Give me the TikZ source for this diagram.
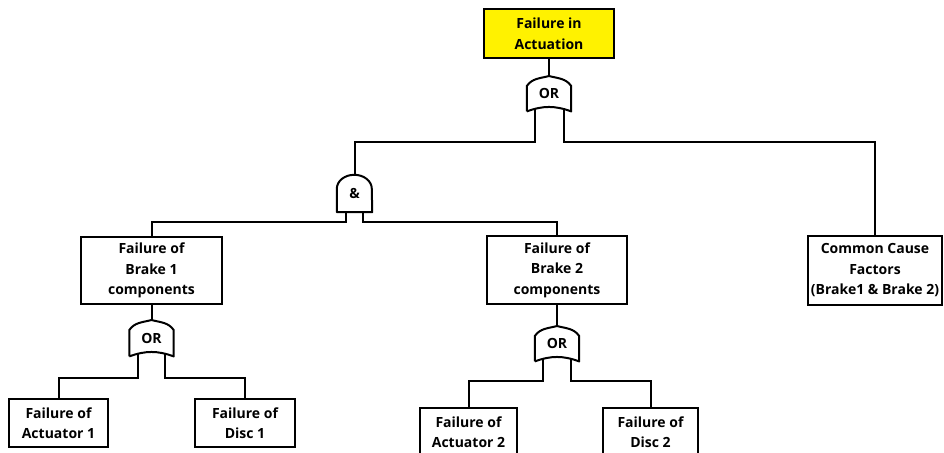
\documentclass[tikz,border=0pt]{standalone}
\usepackage{fontspec}
\setmainfont{Open Sans}
\usepackage{tikz}
\usetikzlibrary{positioning, calc}

% gate outlines, drawn round a gate node
\newcommand{\orshape}[1]{%
  \draw [gate] (#1.south west) -- ([yshift=-10pt]#1.north west)
    to [out=55, in=195] (#1.north)
    to [out=-15, in=125] ([yshift=-10pt]#1.north east)
    -- (#1.south east)
    to [out=160, in=20] (#1.south west);}
\newcommand{\andshape}[1]{%
  \draw [gate] (#1.south west) -- ([yshift=-14pt]#1.north west)
    arc [start angle=180, end angle=0, x radius=17.5pt, y radius=14pt]
    -- (#1.south east) -- cycle;}

\begin{document}
\begin{tikzpicture}[
    x = 1pt, y = 1pt, align = center,
    font = \bfseries\fontsize{14}{20.5}\selectfont,
    event/.style = {rectangle, draw, line width = 2pt, inner sep = 0pt},
    topevent/.style = {event, fill = yellow},
    orgate/.style = {inner sep = 0pt, minimum width = 44pt, minimum height = 35pt},
    andgate/.style = {inner sep = 0pt, minimum width = 35pt, minimum height = 37pt},
    gate/.style = {line width = 2pt, line join = round},
    link/.style = {line width = 2pt},
    ]

    \useasboundingbox (0,0) rectangle (944,-452);

    \node [topevent, minimum width = 130pt, minimum height = 49pt] (fail_act) at (549,-33.5) {Failure in\\Actuation};
    \node [orgate]  (or_top)  [below = 17pt of fail_act] {\raisebox{-3pt}{OR}};
    \node [andgate] (and_brk) at (354.5,-193.5) {\raisebox{-5pt}{\&}};

    \node [event, minimum width = 141pt, minimum height = 67pt] (brk1) at (151.5,-270.5) {Failure of\\Brake 1\\components};
    \node [event, minimum width = 140pt, minimum height = 68pt] (brk2) at (557,-270) {Failure of\\Brake 2\\components};
    \node [event, minimum width = 134pt, minimum height = 69pt] (ccf)  at (875,-270.5) {Common Cause\\Factors\\(Brake1 \& Brake 2)};

    \node [orgate, minimum height = 36pt] (or_brk1) [below = 15pt of brk1] {\raisebox{-3pt}{OR}};
    \node [orgate] (or_brk2) [below = 21pt of brk2] {\raisebox{-3pt}{OR}};

    \node [event, minimum width = 99pt,  minimum height = 48pt] (act1)  at (58.5,-423)  {Failure of\\Actuator 1};
    \node [event, minimum width = 100pt, minimum height = 48pt] (disc1) at (245,-423)   {Failure of\\Disc 1};
    \node [event, minimum width = 97pt,  minimum height = 48pt] (act2)  at (468.5,-432) {Failure of\\Actuator 2};
    \node [event, minimum width = 95pt,  minimum height = 48pt] (disc2) at (650.5,-432) {Failure of\\Disc 2};

    % gates
    \orshape{or_top}
    \andshape{and_brk}
    \orshape{or_brk1}
    \orshape{or_brk2}

    % draw paths
    \draw [link] (fail_act.south) -- (or_top.north);
    \draw [link] ([shift={(-14.5pt,3pt)}]or_top.south) -- ++(0,-34pt) -| (and_brk.north);
    \draw [link] ([shift={(14.5pt,3pt)}]or_top.south) -- ++(0,-34pt) -| (ccf.north);
    \draw [link] ([xshift=-8.5pt]and_brk.south) -- ++(0,-10pt) -| (brk1.north);
    \draw [link] ([xshift=8.5pt]and_brk.south) -- ++(0,-10pt) -| (brk2.north);
    \draw [link] (brk1.south) -- (or_brk1.north);
    \draw [link] (brk2.south) -- (or_brk2.north);
    \draw [link] ([shift={(-13.5pt,3pt)}]or_brk1.south) -- ++(0,-25pt) -| (act1.north);
    \draw [link] ([shift={(13.5pt,3pt)}]or_brk1.south) -- ++(0,-25pt) -| (disc1.north);
    \draw [link] ([shift={(-14pt,3pt)}]or_brk2.south) -- ++(0,-23pt) -| (act2.north);
    \draw [link] ([shift={(14pt,3pt)}]or_brk2.south) -- ++(0,-23pt) -| (disc2.north);
\end{tikzpicture}
\end{document}
